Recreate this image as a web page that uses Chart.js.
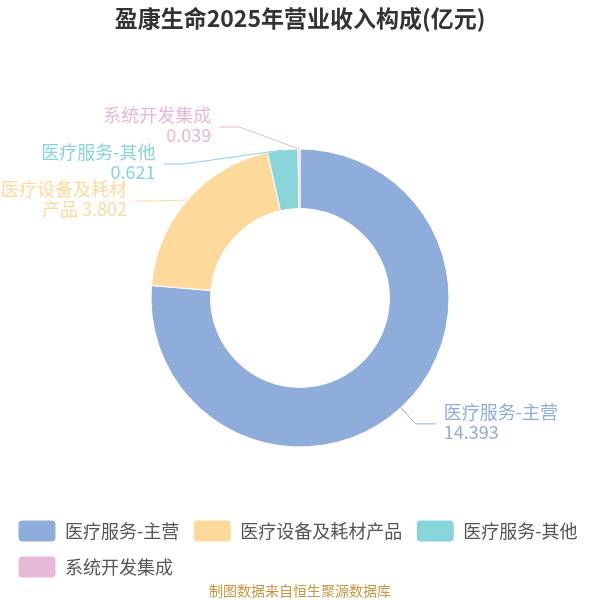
<!DOCTYPE html>
<html>
<head>
<meta charset="utf-8">
<script src="https://cdn.jsdelivr.net/npm/chart.js@4"></script>
<style>
    html, body { margin: 0; padding: 0; background: #fff; }
</style>
</head>
<body>
<canvas id="chart" width="600" height="600"></canvas>
<script>
let categories = ['医疗服务-主营', '医疗设备及耗材产品', '医疗服务-其他', '系统开发集成'];
let revenues = [14.393, 3.802, 0.621, 0.039];
let sliceColors = ['#8eaddb', '#fdd99b', '#87d5d8', '#e8b8d9'];
let chartTitle = '盈康生命2025年营业收入构成(亿元)';
let sourceNote = '制图数据来自恒生聚源数据库';
let fontFamily = '"Noto Sans CJK SC", "Noto Sans", sans-serif';


// -------- LABEL TEXT UMBRECHEN -------- //

function wrapLabel(ctx, name, value, maxW) {
    if (ctx.measureText(name).width <= maxW) return [name, value];
    let lines = [];
    let line = '';
    for (let ch of name) {
        if (ctx.measureText(line + ch).width > maxW && line) {
            lines.push(line);
            line = ch;
        } else {
            line += ch;
        }
    }
    if (ctx.measureText(line + ' ' + value).width <= maxW) {
        lines.push(line + ' ' + value);
    } else {
        lines.push(line, value);
    }
    return lines;
}


// -------- LABELS AUSSEN MIT LINIEN -------- //

const outsideLabels = {
    id: 'outsideLabels',
    afterDatasetsDraw(chart) {
        const ctx = chart.ctx;
        const meta = chart.getDatasetMeta(0);
        const len1 = 22, len2 = 20, gap = 8, lineH = 20, minGap = 37;
        ctx.save();
        ctx.font = '18px ' + fontFamily;

        let items = meta.data.map((arc, i) => {
            const mid = (arc.startAngle + arc.endAngle) / 2;
            const R = arc.outerRadius + len1;
            return {
                i: i, mid: mid, R: R, r: arc.outerRadius,
                cx: arc.x, cy: arc.y,
                dir: Math.cos(mid) < 0 ? -1 : 1,
                x: arc.x + Math.cos(mid) * R,
                y: arc.y + Math.sin(mid) * R,
                lines: wrapLabel(ctx, categories[i], revenues[i].toFixed(3), 128)
            };
        });

        [-1, 1].forEach(dir => {
            let side = items.filter(it => it.dir === dir).sort((a, b) => a.y - b.y);
            let shifted = false;
            for (let k = 1; k < side.length; k++) {
                if (side[k].y - side[k - 1].y < minGap) {
                    side[k].y = side[k - 1].y + minGap;
                    shifted = true;
                }
            }
            if (shifted) {
                side.forEach(it => {
                    const rB = it.R * 1.07;
                    const dy = it.y - it.cy;
                    const dx = it.R * Math.sqrt(Math.max(0, 1 - dy * dy / (rB * rB)));
                    it.x = it.cx + dx * dir;
                });
            }
        });

        items.forEach(it => {
            const color = sliceColors[it.i];
            ctx.strokeStyle = color;
            ctx.lineWidth = 1;
            ctx.beginPath();
            ctx.moveTo(it.cx + Math.cos(it.mid) * it.r, it.cy + Math.sin(it.mid) * it.r);
            ctx.lineTo(it.x, it.y);
            ctx.lineTo(it.x + it.dir * len2, it.y);
            ctx.stroke();

            ctx.fillStyle = color;
            ctx.textAlign = it.dir < 0 ? 'right' : 'left';
            ctx.textBaseline = 'middle';
            const tx = it.x + it.dir * (len2 + gap);
            const n = it.lines.length;
            it.lines.forEach((txt, k) => {
                ctx.fillText(txt, tx, it.y - 2 + (k - (n - 1) / 2) * lineH);
            });
        });
        ctx.restore();
    }
};


// -------- QUELLE UNTEN -------- //

const sourceFooter = {
    id: 'sourceFooter',
    afterDraw(chart) {
        const ctx = chart.ctx;
        ctx.save();
        ctx.font = '14px ' + fontFamily;
        ctx.fillStyle = '#c8963e';
        ctx.textAlign = 'center';
        ctx.textBaseline = 'middle';
        ctx.fillText(sourceNote, chart.width / 2, 591);
        ctx.restore();
    }
};


new Chart(document.getElementById('chart'), {
    type: 'doughnut',
    data: {
        labels: categories,
        datasets: [{
            data: revenues,
            backgroundColor: sliceColors,
            borderColor: '#fff',
            borderWidth: 1,
            radius: 149,
            cutout: '60%'
        }]
    },
    options: {
        responsive: false,
        animation: false,
        events: [],
        layout: { padding: { left: 4, right: 4, top: 0, bottom: 12 } },
        plugins: {
            title: {
                display: true,
                text: chartTitle,
                color: '#333',
                font: { size: 23, weight: 'bold', family: fontFamily },
                padding: { top: 4.2, bottom: 58.2 }
            },
            legend: {
                position: 'bottom',
                align: 'start',
                labels: {
                    boxWidth: 38,
                    boxHeight: 22,
                    padding: 14,
                    color: '#555',
                    useBorderRadius: true,
                    borderRadius: 4,
                    font: { size: 18, family: fontFamily }
                }
            },
            tooltip: { enabled: false }
        }
    },
    plugins: [outsideLabels, sourceFooter]
});
</script>
</body>
</html>
